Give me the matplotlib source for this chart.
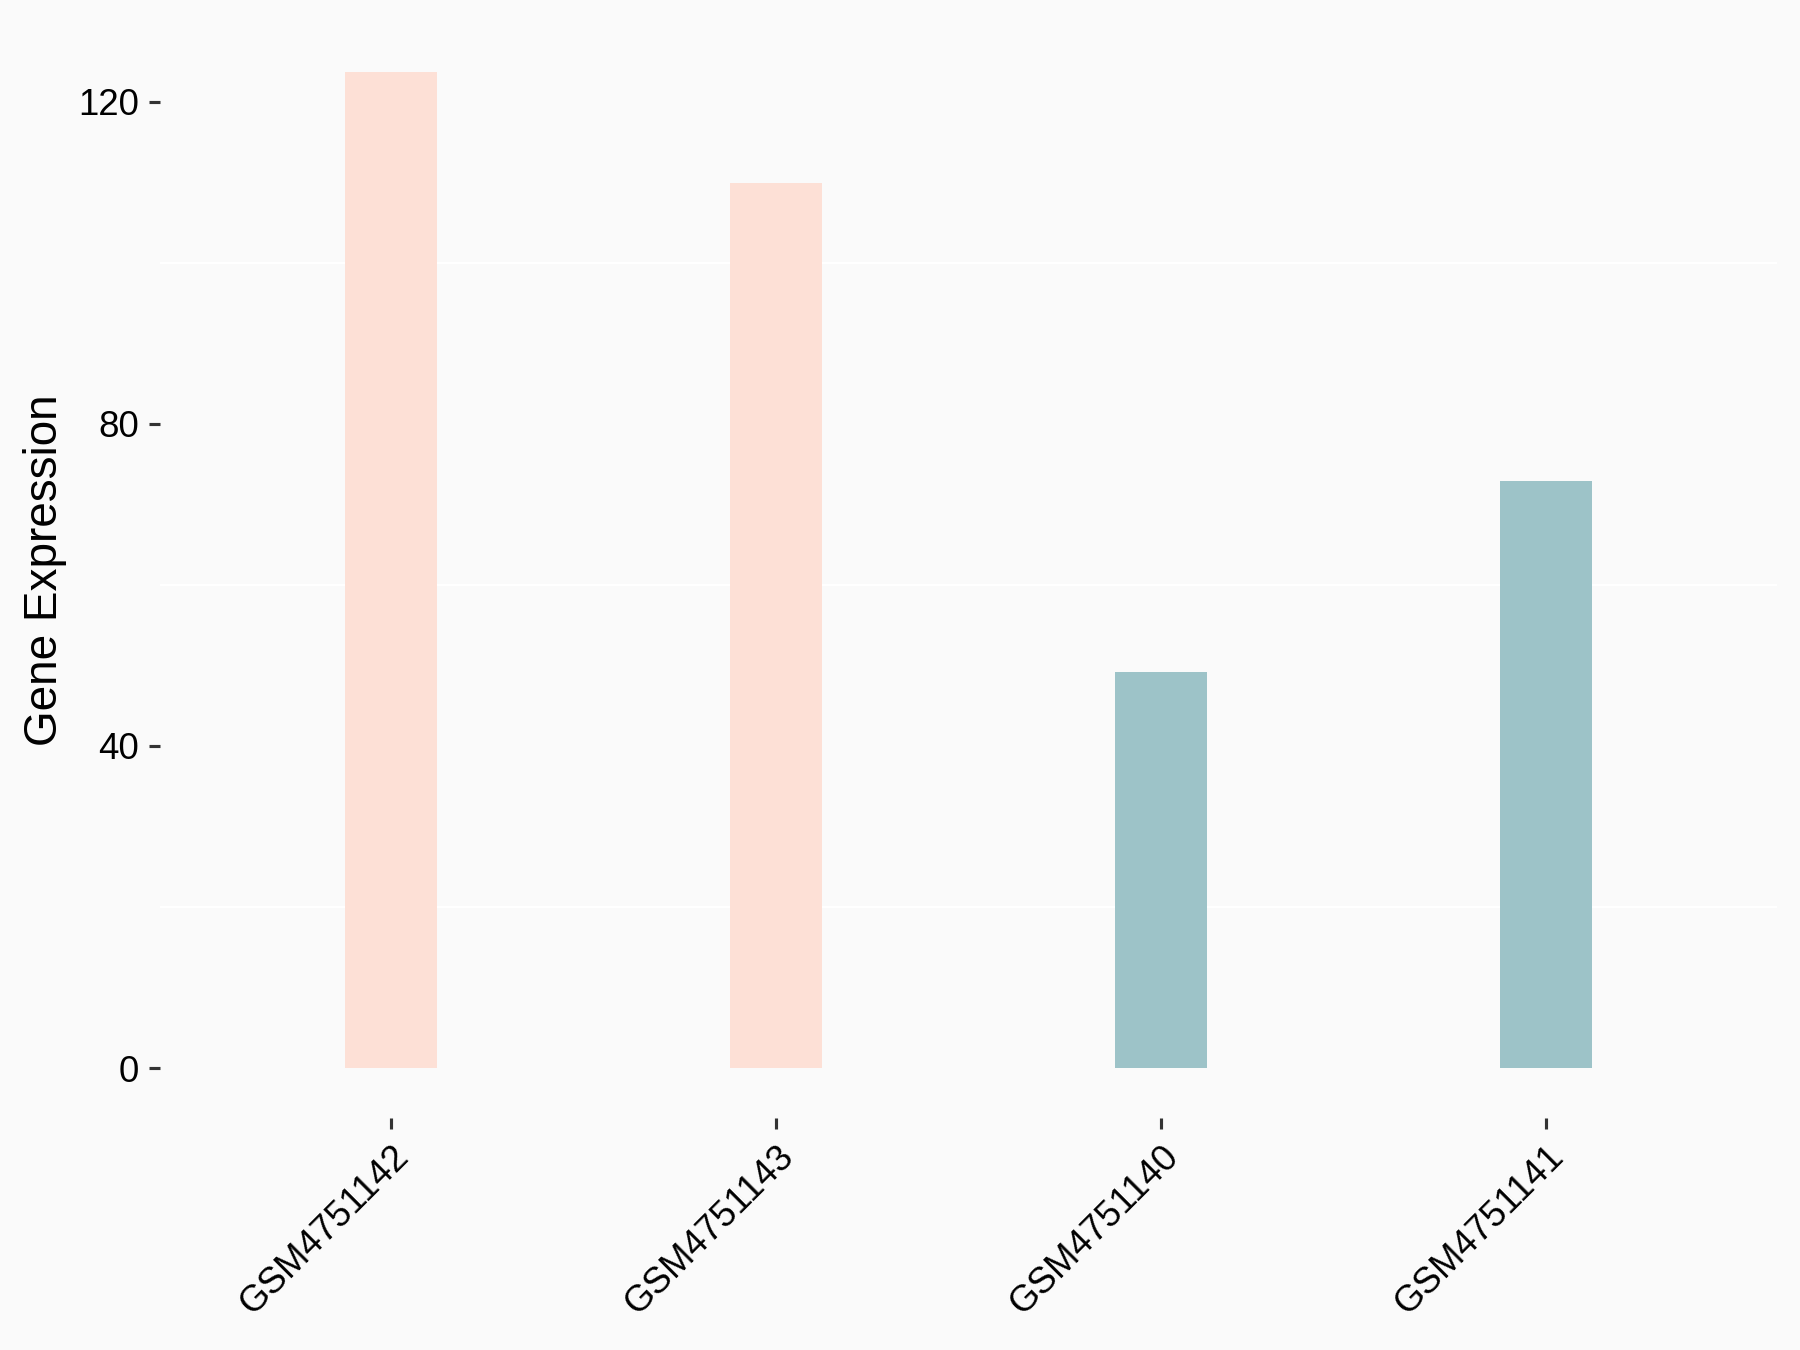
import matplotlib.pyplot as plt
from matplotlib.ticker import MultipleLocator

plt.rcParams["font.family"] = ["Liberation Sans", "DejaVu Sans"]

# values
samples = ["GSM4751142", "GSM4751143", "GSM4751140", "GSM4751141"]
expression = [123.7, 109.9, 49.2, 72.9]
groups = ["A", "A", "B", "B"]

group_colors = {"A": "#FDE0D6", "B": "#9DC3C8"}
bg = "#FAFAFA"

fig = plt.figure(figsize=(6, 4.5), dpi=300, facecolor=bg)
ax = fig.add_axes([0.0889, 0.1719, 0.8983, 0.8118])
ax.set_facecolor(bg)

x = list(range(len(samples)))
ax.bar(x, expression, width=0.24, color=[group_colors[g] for g in groups], zorder=2)

top = max(expression)
ax.set_ylim(-0.05 * top, 1.05 * top)
ax.set_xlim(-0.6, len(samples) - 0.4)

ax.yaxis.set_major_locator(MultipleLocator(40))
ax.yaxis.set_minor_locator(MultipleLocator(20))
ax.set_xticks(x)
ax.set_xticklabels(samples, rotation=45, ha="right", va="top", rotation_mode="anchor")

# faint white minor grid like the ggplot theme
ax.grid(which="minor", axis="y", color="white", lw=0.5, zorder=0)
ax.set_axisbelow(True)

for s in ax.spines.values():
    s.set_visible(False)

ax.tick_params(axis="both", which="major", length=2.6, width=0.75, color="#333333",
               labelsize=8.8, labelcolor="black", pad=2.4)
ax.tick_params(axis="y", which="minor", length=0)

ax.set_ylabel("Gene Expression", fontsize=11, labelpad=2.6)

fig.savefig("out.png", dpi=300, facecolor=bg)
